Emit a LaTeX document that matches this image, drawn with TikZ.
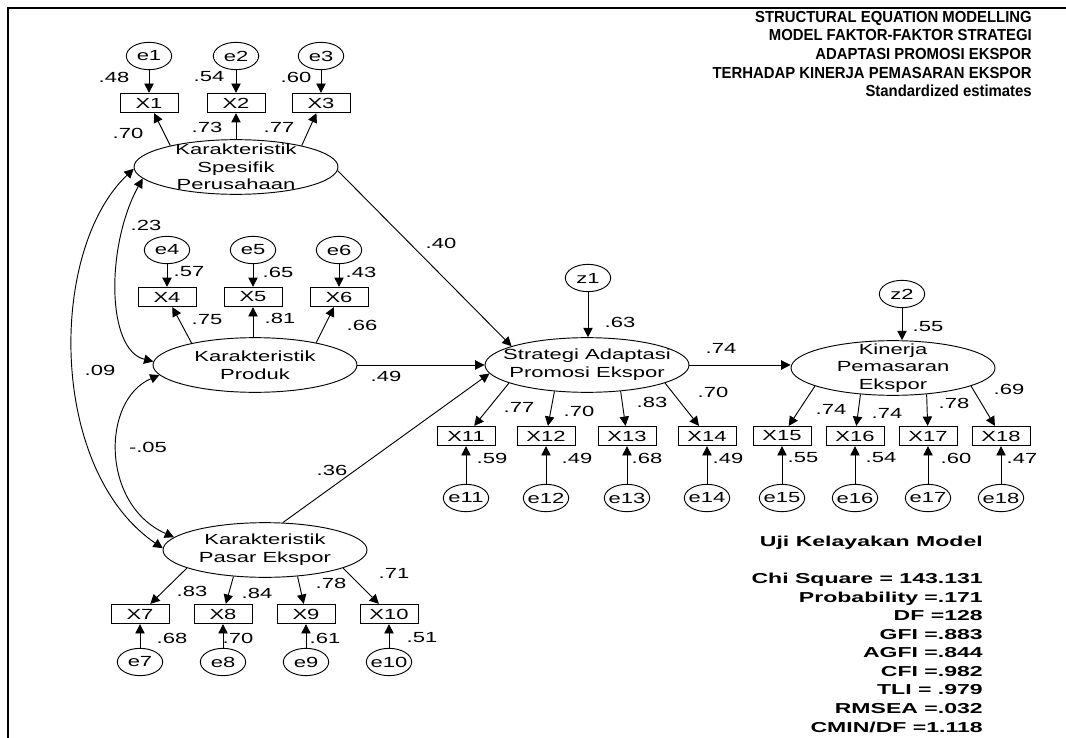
\documentclass[tikz,border=0pt]{standalone}
\usepackage{fontspec}
\setmainfont{Liberation Sans}[BoldFont={Liberation Sans Bold}]
\newfontfamily\amos{Liberation Sans}[FakeStretch=1.5, BoldFont={Liberation Sans Bold}]
\newfontfamily\amosfit{Liberation Sans Bold}[FakeStretch=1.6]
\newfontfamily\amostitle{Liberation Sans Bold}[FakeStretch=0.93]
\usetikzlibrary{arrows.meta,shapes.geometric}

\tikzset{
  lw/.style={line width=0.7pt},
  obs/.style={draw, lw, rectangle, minimum width=43.5pt, minimum height=14.5pt,
    inner sep=0pt, font=\amos\fontsize{11}{12}\selectfont},
  err/.style={draw, lw, ellipse, minimum width=34pt, minimum height=20.5pt,
    inner sep=0pt, font=\amos\fontsize{11}{12}\selectfont},
  lat/.style={draw, lw, ellipse, minimum width=153pt, minimum height=41pt, inner sep=0pt},
  lattext/.style={align=center, inner sep=0pt, font=\amos\fontsize{11}{13.2}\selectfont},
  coef/.style={inner sep=0pt, font=\amos\fontsize{11}{12}\selectfont},
  path/.style={lw, -{Triangle[length=7pt,width=7pt]}},
  cov/.style={lw, {Triangle[length=7pt,width=7pt]}-{Triangle[length=7pt,width=7pt]}},
}

\begin{document}
\begin{tikzpicture}[x=0.75pt,y=-0.75pt]
\useasboundingbox (0,0) rectangle (1066,738);

% frame
\draw[line width=1.6pt] (8,738) -- (8,8) -- (1066,8);

% heading
\node[anchor=north east, align=right, inner sep=0pt,
  font=\amostitle\fontsize{12}{13.9}\selectfont] (title) at (1032,11)
  {STRUCTURAL EQUATION MODELLING\\MODEL FAKTOR-FAKTOR STRATEGI\\ADAPTASI PROMOSI EKSPOR\\TERHADAP KINERJA PEMASARAN EKSPOR\\Standardized estimates};

% fit indices
\node[anchor=north east, align=right, inner sep=0pt,
  font=\amosfit\fontsize{10.8}{13.9}\selectfont] (fit) at (983,536)
  {Uji Kelayakan Model\\[13.9pt]Chi Square = 143.131\\Probability =.171\\DF =128\\GFI =.883\\AGFI =.844\\CFI =.982\\TLI = .979\\RMSEA =.032\\CMIN/DF =1.118};

% ---------- Karakteristik Spesifik Perusahaan ----------
\node[lat, label={[lattext]center:{Karakteristik\\Spesifik\\Perusahaan}}] (ksp) at (236,167) {};
\foreach \i/\x in {1/149,2/236,3/321}{
  \node[err] (e\i) at (\x,56) {\makebox[0pt]{e\i}};
  \node[obs] (x\i) at (\x,103) {X\i};
  \draw[path] (e\i) -- (x\i);
}
\draw[path] (ksp.162) -- (x1);
\draw[path] (x2 |- ksp.north) -- (x2);
\draw[path] (ksp.18) -- (x3);
\node[coef] (r1) at (114,77) {.48};
\node[coef] (r2) at (209,77) {.54};
\node[coef] (r3) at (296,77) {.60};
\node[coef] (l1) at (128,133) {.70};
\node[coef] (l2) at (207,127) {.73};
\node[coef] (l3) at (279,127) {.77};

% ---------- Karakteristik Produk ----------
\node[lat, label={[lattext]center:{Karakteristik\\Produk}}] (kp) at (255,365) {};
\foreach \i/\x in {4/167,5/253,6/339}{
  \node[err] (e\i) at (\x,250) {\makebox[0pt]{e\i}};
  \node[obs] (x\i) at (\x,297) {X\i};
  \draw[path] (e\i) -- (x\i);
}
\draw[path] (kp.161) -- (x4);
\draw[path] (x5 |- kp.north) -- (x5);
\draw[path] (kp.20) -- (x6);
\node[coef] (r4) at (189,272) {.57};
\node[coef] (r5) at (278,272) {.65};
\node[coef] (r6) at (361,272) {.43};
\node[coef] (l4) at (207,320) {.75};
\node[coef] (l5) at (280,318) {.81};
\node[coef] (l6) at (362,325) {.66};

% ---------- Karakteristik Pasar Ekspor ----------
\node[lat, label={[lattext]center:{Karakteristik\\Pasar Ekspor}}] (kpm) at (265,550) {};
\foreach \i/\x in {7/140,8/223,9/306,10/389}{
  \node[err] (e\i) at (\x,662) {\makebox[0pt]{e\i}};
  \node[obs] (x\i) at (\x,614) {X\i};
  \draw[path] (e\i) -- (x\i);
}
\draw[path] (kpm.193) -- (x7);
\draw[path] (kpm.220) -- (x8);
\draw[path] (kpm.321) -- (x9);
\draw[path] (kpm.347) -- (x10);
\node[coef] (l7) at (192,591) {.83};
\node[coef] (l8) at (257,593) {.84};
\node[coef] (l9) at (331,583) {.78};
\node[coef] (l10) at (394,573) {.71};
\node[coef] (r7) at (172,638) {.68};
\node[coef] (r8) at (238,638) {.70};
\node[coef] (r9) at (325,638) {.61};
\node[coef] (r10) at (422,638) {.51};

% ---------- Strategi Adaptasi Promosi Ekspor ----------
\node[lat, label={[lattext]center:{Strategi Adaptasi\\Promosi Ekspor}}] (sape) at (587,365) {};
\node[err] (z1) at (588,278) {\makebox[0pt]{z1}};
\draw[path] (z1) -- (z1 |- sape.north);
\node[coef] (rz1) at (620,322) {.63};
\foreach \i/\x in {11/466,12/546,13/627,14/707}{
  \node[err] (e\i) at (\x,498) {\makebox[0pt]{e\i}};
  \node[obs] (x\i) at (\x,436) {X\i};
  \draw[path] (e\i) -- (x\i);
}
\draw[path] (sape.193) -- (x11);
\draw[path] (sape.219) -- (x12);
\draw[path] (sape.322) -- (x13);
\draw[path] (sape.347) -- (x14);
\node[coef] (l11) at (519,407) {.77};
\node[coef] (l12) at (579,411) {.70};
\node[coef] (l13) at (652,402) {.83};
\node[coef] (l14) at (713,392) {.70};
\node[coef] (r11) at (492,458) {.59};
\node[coef] (r12) at (577,458) {.49};
\node[coef] (r13) at (647,458) {.68};
\node[coef] (r14) at (728,458) {.49};

% ---------- Kinerja Pemasaran Ekspor ----------
\node[lat, label={[lattext]center:{Kinerja\\Pemasaran\\Ekspor}}] (kpe) at (893,368) {};
\node[err] (z2) at (902,294) {\makebox[0pt]{z2}};
\draw[path] (z2) -- (z2 |- kpe.north);
\node[coef] (rz2) at (928,327) {.55};
\foreach \i/\x in {15/782,16/855,17/928,18/1001}{
  \node[err] (e\i) at (\x,498) {\makebox[0pt]{e\i}};
  \node[obs] (x\i) at (\x,436) {X\i};
  \draw[path] (e\i) -- (x\i);
}
\draw[path] (kpe.193) -- (x15);
\draw[path] (kpe.219) -- (x16);
\draw[path] (kpe.322) -- (x17);
\draw[path] (kpe.347) -- (x18);
\node[coef] (l15) at (831,409) {.74};
\node[coef] (l16) at (887,413) {.74};
\node[coef] (l17) at (954,403) {.78};
\node[coef] (l18) at (1009,389) {.69};
\node[coef] (r15) at (803,458) {.55};
\node[coef] (r16) at (881,458) {.54};
\node[coef] (r17) at (956,458) {.60};
\node[coef] (r18) at (1022,458) {.47};

% ---------- structural paths ----------
\draw[path] (ksp.358) -- (sape.166);
\draw[path] (kp.east) -- (sape.west);
\draw[path] (kpm.57) -- (sape.185);
\draw[path] (sape.east) -- (sape.east -| kpe.west);
\node[coef] (b1) at (441,243) {.40};
\node[coef] (b2) at (386,376) {.49};
\node[coef] (b3) at (332,470) {.36};
\node[coef] (b4) at (721,348) {.74};

% ---------- covariances ----------
\draw[cov] (ksp.187) .. controls (106,245) and (106,350) .. (kp.178);
\draw[cov] (ksp.181) .. controls (48,250) and (48,470) .. (kpm.179);
\draw[cov] (kp.186) .. controls (101,400) and (101,505) .. (kpm.172);
\node[coef] (c1) at (146,225) {.23};
\node[coef] (c2) at (100,370) {.09};
\node[coef] (c3) at (148,447) {-.05};
\end{tikzpicture}
\end{document}
